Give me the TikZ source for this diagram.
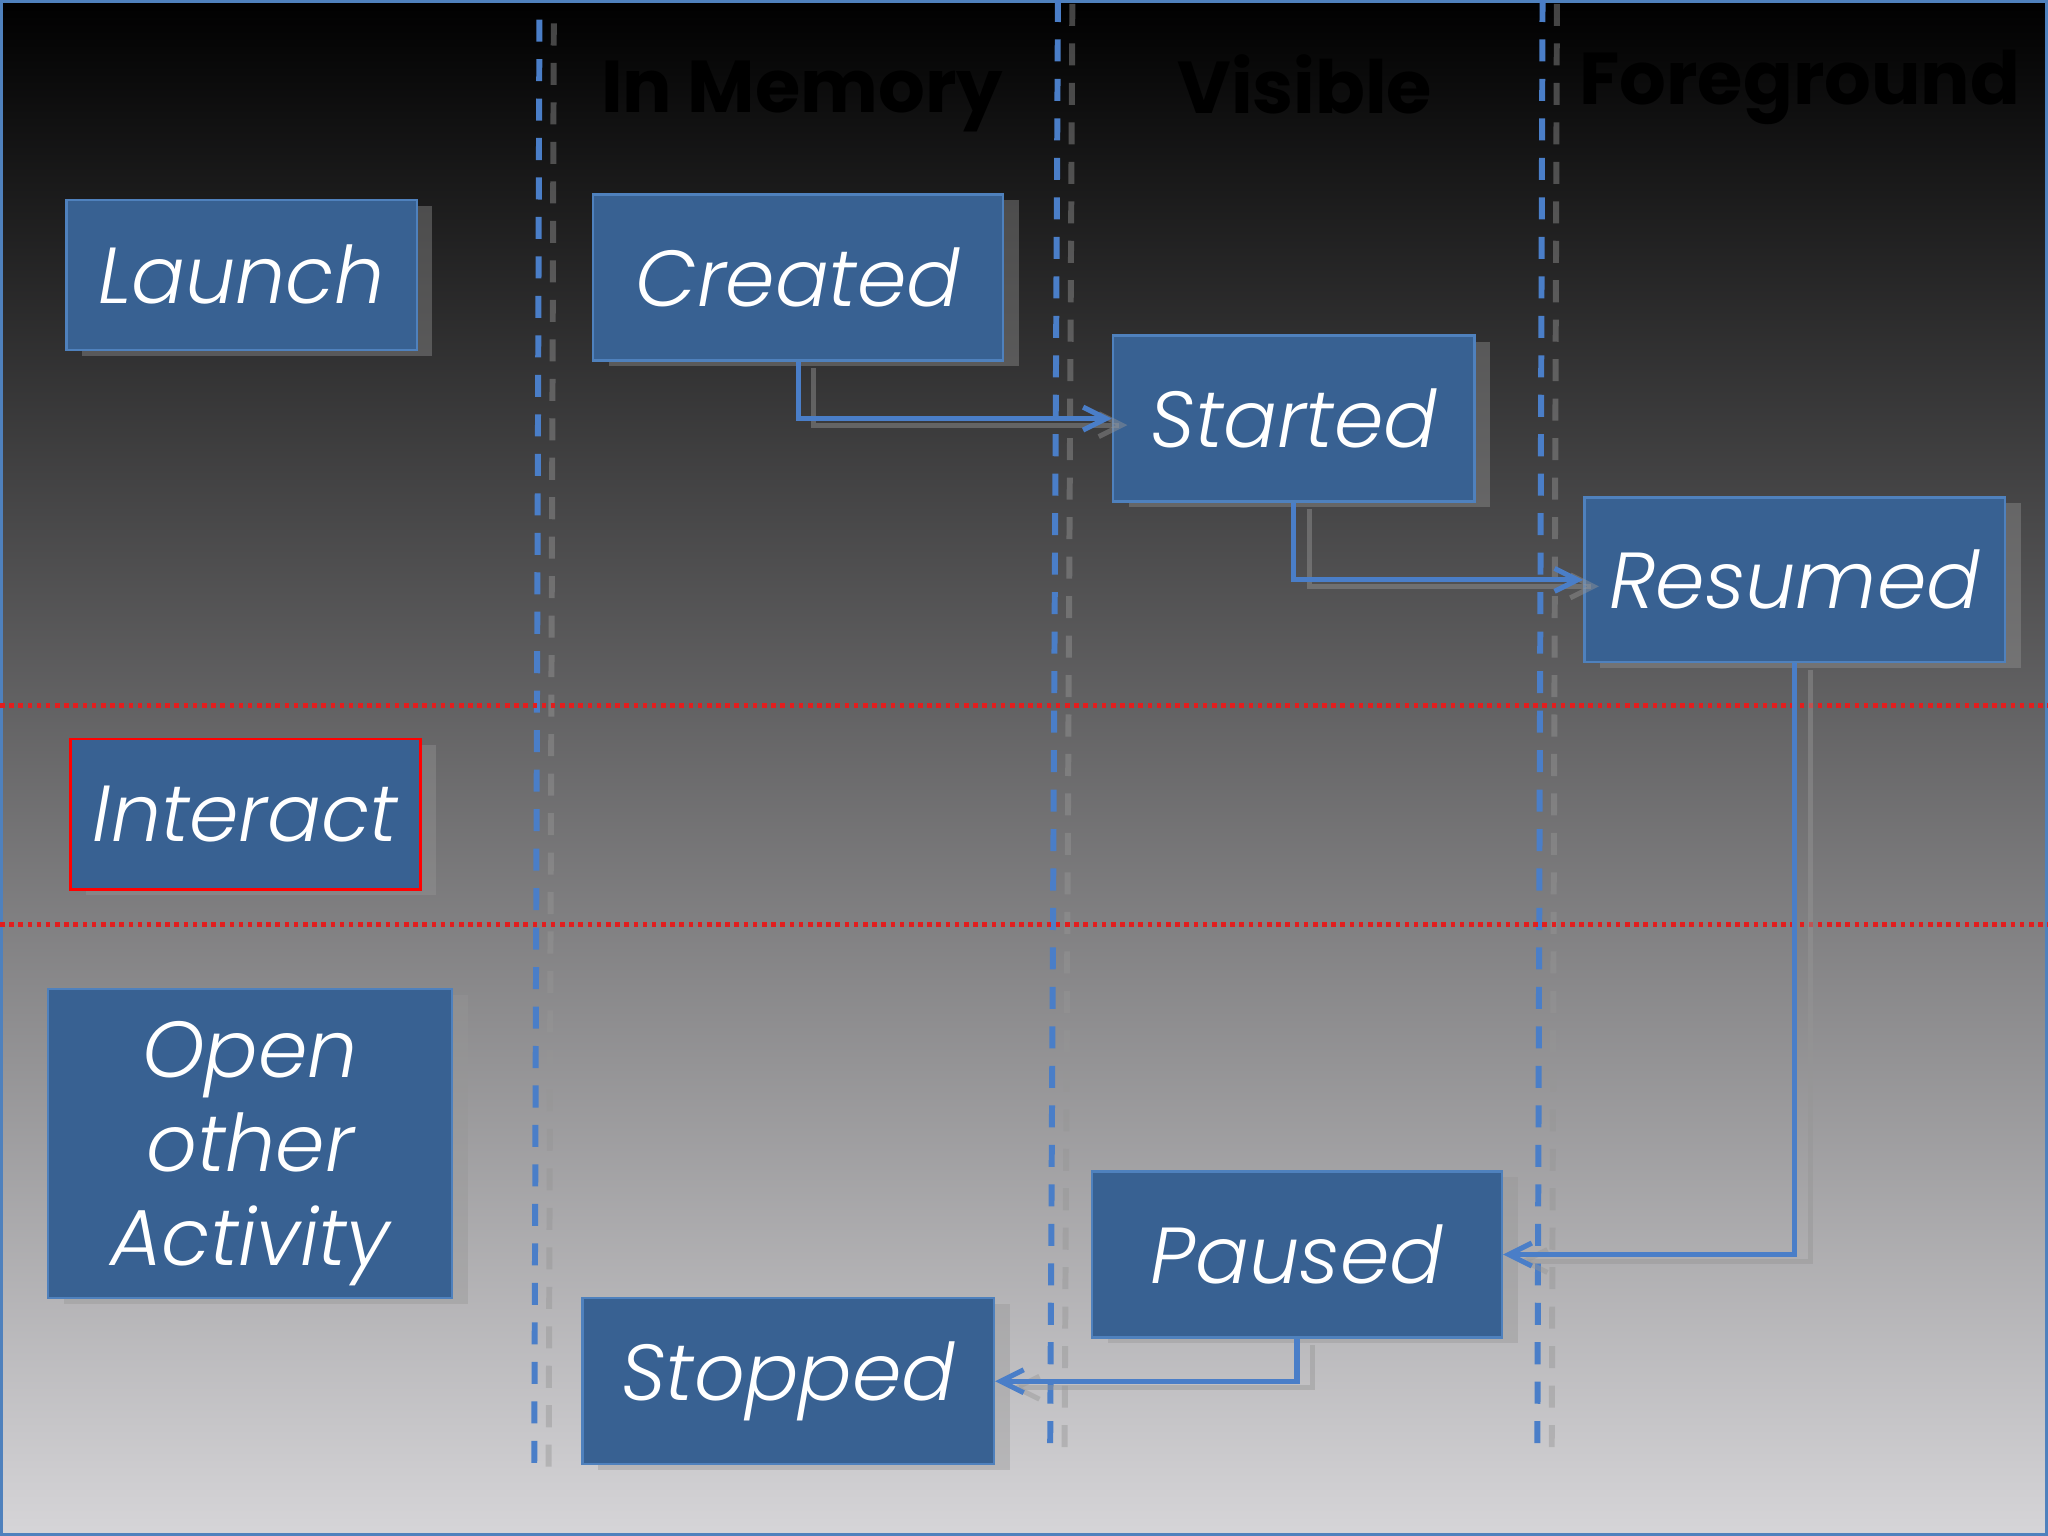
\documentclass[tikz,border=0pt]{standalone}
\usepackage{fontspec}
\newfontfamily\statefont{Poppins Light}
\newfontfamily\headfont{Poppins}
\usetikzlibrary{arrows.meta,shadows}
\definecolor{boxblue}{RGB}{56,97,146}
\definecolor{boxedge}{RGB}{79,129,189}
\definecolor{lineblue}{RGB}{74,126,200}
\definecolor{dotred}{RGB}{226,30,30}
\definecolor{shadowgray}{RGB}{150,150,150}
\definecolor{bgbottom}{RGB}{214,213,216}

\begin{document}
\begin{tikzpicture}
        \def\wide{15.68}
        \def\high{11.76}
        \tikzstyle{box}=[rectangle, draw=boxedge, line width=0.5pt, fill=boxblue, text=white, inner sep=0pt, align=center,
            font=\statefont\itshape\fontsize{17.3}{20.4}\selectfont,
            drop shadow={shadow xshift=0.12cm, shadow yshift=-0.045cm, fill=shadowgray, opacity=0.4}]
        \tikzstyle{head}=[anchor=base, black, font=\headfont\bfseries\fontsize{16}{19}\selectfont]
        \tikzstyle{lane}=[lineblue, line width=1.3pt, dash pattern=on 4.8pt off 3.8pt,
            preaction={draw=shadowgray, line width=1.3pt, dash pattern=on 4.8pt off 3.8pt, opacity=0.45,
                transform canvas={shift={(0.11,-0.03)}}}]
        \tikzstyle{flow}=[lineblue, line width=1.1pt, -{Straight Barb[length=5pt,width=5pt]},
            preaction={draw=shadowgray, line width=1.1pt, opacity=0.45, transform canvas={shift={(0.12,-0.05)}}}]
        \tikzstyle{sep}=[dotred, line width=1pt, dash pattern=on 1pt off 1pt]

        \useasboundingbox (0,0) rectangle (\wide,\high);

        % Background
        \shade [top color=black, bottom color=bgbottom] (0,0) rectangle (\wide,\high);
        \draw [boxedge, line width=0.6pt] (0.01,0.01) rectangle (\wide-0.01,\high-0.01);

        % Lanes
        \coordinate (lane_0_top) at (4.13, 11.61);
        \coordinate (lane_0_bot) at (4.09, 0.46);
        \coordinate (lane_1_top) at (8.10, \high);
        \coordinate (lane_1_bot) at (8.04, 0.61);
        \coordinate (lane_2_top) at (11.81, \high);
        \coordinate (lane_2_bot) at (11.77, 0.64);
        \foreach \i in {0,...,2}
            \draw [lane] (lane_\i_top) -- (lane_\i_bot);

        \draw node at (6.14, 10.90) [head] (head_0) {In Memory};
        \draw node at (9.99, 10.89) [head] (head_1) {Visible};
        \draw node at (13.78, 10.96) [head] (head_2) {Foreground};

        % Rows
        \coordinate (row_0_left) at (0, 6.36);
        \coordinate (row_0_right) at (\wide, 6.36);
        \coordinate (row_1_left) at (0, 4.68);
        \coordinate (row_1_right) at (\wide, 4.68);
        \foreach \i in {0,...,1}
            \draw [sep] (row_\i_left) -- (row_\i_right);

        % Triggers
        \draw node at (1.85, 9.655) [box, minimum width=2.68cm, minimum height=1.15cm] (launch) {Launch};
        \draw node at (1.88, 5.525) [box, draw=red, minimum width=2.68cm, minimum height=1.15cm] (interact) {Interact};
        \draw node at (1.915, 3.005) [box, text depth=-0.05cm, minimum width=3.09cm, minimum height=2.37cm] (open) {Open\\other\\Activity};

        % States
        \draw node at (6.11, 9.635) [box, minimum width=3.14cm, minimum height=1.27cm] (created) {Created};
        \draw node at (9.905, 8.555) [box, minimum width=2.77cm, minimum height=1.27cm] (started) {Started};
        \draw node at (13.74, 7.32) [box, minimum width=3.22cm, minimum height=1.26cm] (resumed) {Resumed};
        \draw node at (9.93, 2.155) [box, minimum width=3.14cm, minimum height=1.27cm] (paused) {Paused};
        \draw node at (6.035, 1.185) [box, minimum width=3.15cm, minimum height=1.27cm] (stopped) {Stopped};

        % Transitions
        \draw [flow] (created.south) |- (started.west);
        \draw [flow] (started.south) |- (resumed.west);
        \draw [flow] (resumed.south) |- (paused.east);
        \draw [flow] (paused.south) |- (stopped.east);

    \end{tikzpicture}
\end{document}
